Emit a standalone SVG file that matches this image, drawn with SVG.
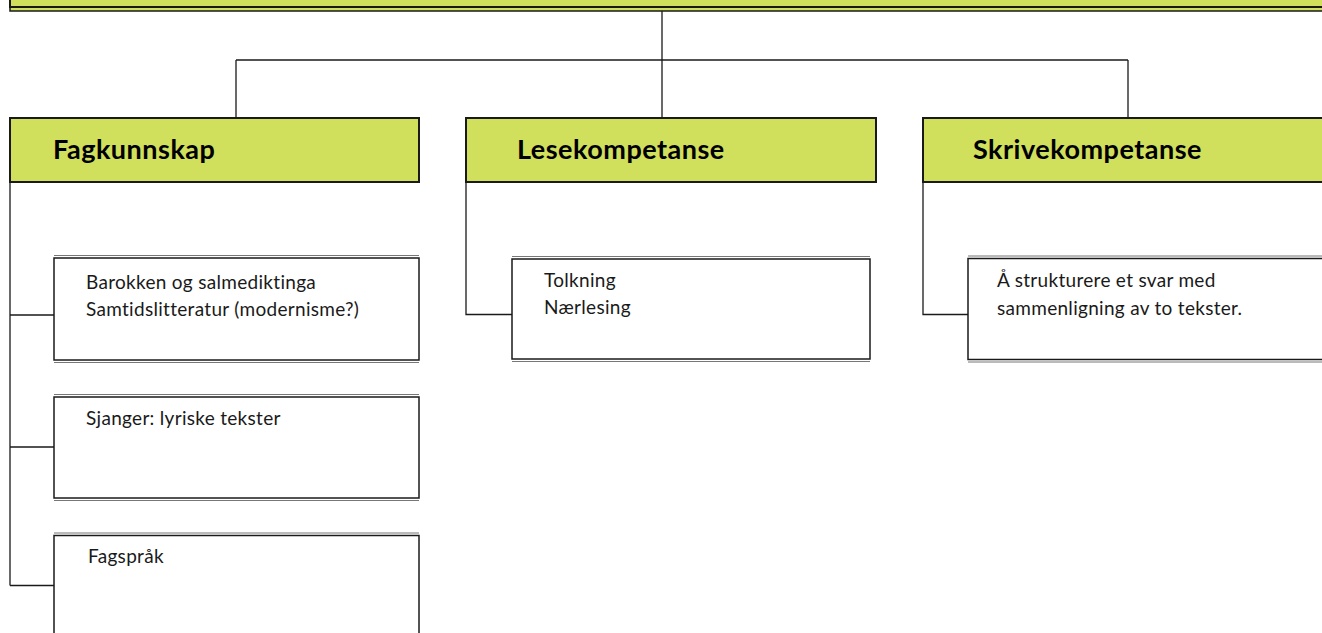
<svg xmlns="http://www.w3.org/2000/svg" width="1322" height="633" viewBox="0 0 1322 633">
<style>
.hdr{fill:#d0df5c;stroke:#1a1a1a;stroke-width:2}
.hdrs{fill:#d0df5c;stroke:#1a1a1a;stroke-width:1.5}
.box{fill:#ffffff;stroke:#1a1a1a;stroke-width:1.5}
.sh{fill:none;stroke:#777;stroke-width:1}
.ht{font-family:Lato,"Liberation Sans",sans-serif;font-weight:bold;font-size:27px;letter-spacing:0.5px;fill:#000}
.bt{font-family:Lato,"Liberation Sans",sans-serif;font-size:19px;letter-spacing:0.3px;fill:#1a1a1a}
.con{fill:none;stroke:#1a1a1a;stroke-width:1.3}
</style>
<rect width="1322" height="633" fill="#fff"/>
<g id="top">
<rect class="hdrs" x="10" y="-30" width="1330" height="41"/>
<rect class="hdr" x="10" y="-30" width="1330" height="37"/>
</g>
<g id="connectors">
<path class="con" d="M662 11V60M236 60H1128M236 60V118M662 60V118M1128 60V118"/>
<path class="con" d="M10 182V585.5M10 315H54M10 447H54M10 585.5H54"/>
<path class="con" d="M466 182V314.5H512"/>
<path class="con" d="M923 182V314.5H968"/>
</g>
<g id="fagkunnskap">
<rect class="hdr" x="10" y="118" width="409" height="64"/>
<text class="ht" x="53" y="159">Fagkunnskap</text>
</g>
<g id="lesekompetanse">
<rect class="hdr" x="466" y="118" width="410" height="64"/>
<text class="ht" x="517" y="159">Lesekompetanse</text>
</g>
<g id="skrivekompetanse">
<rect class="hdr" x="923" y="118" width="420" height="64"/>
<text class="ht" x="973" y="159">Skrivekompetanse</text>
</g>
<g id="box-barokken">
<rect class="box" x="54" y="258" width="365" height="102"/>
<path class="sh" d="M54 255.5H419M54 362.5H419"/>
<text class="bt" x="86" y="289">Barokken og salmediktinga</text>
<text class="bt" x="86" y="316">Samtidslitteratur (modernisme?)</text>
</g>
<g id="box-sjanger">
<rect class="box" x="54" y="397" width="365" height="101"/>
<path class="sh" d="M54 394.5H419M54 500.5H419"/>
<text class="bt" x="86" y="425">Sjanger: lyriske tekster</text>
</g>
<g id="box-fagsprak">
<rect class="box" x="54" y="535.5" width="365" height="120"/>
<path class="sh" d="M54 533H419"/>
<text class="bt" x="88" y="563">Fagspråk</text>
</g>
<g id="box-tolkning">
<rect class="box" x="512" y="259" width="358" height="100"/>
<path class="sh" d="M512 256.5H870M512 361.5H870"/>
<text class="bt" x="544" y="287">Tolkning</text>
<text class="bt" x="544" y="314">Nærlesing</text>
</g>
<g id="box-strukturere">
<rect class="box" x="968" y="258.5" width="380" height="101"/>
<path class="sh" d="M968 256H1330M968 362H1330"/>
<text class="bt" x="997" y="287">Å strukturere et svar med</text>
<text class="bt" x="997" y="315">sammenligning av to tekster.</text>
</g>
</svg>
